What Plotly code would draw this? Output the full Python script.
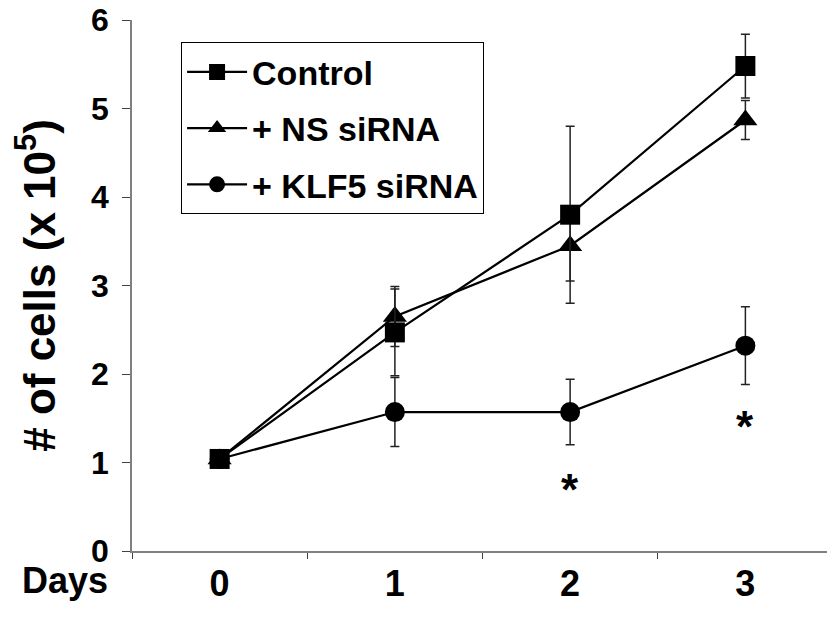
import plotly.graph_objects as go

days = ["0", "1", "2", "3"]
control = [1.04, 2.47, 3.80, 5.48]
control_err = [0.0, 0.49, 1.00, 0.36]
ns = [1.04, 2.65, 3.45, 4.87]
ns_err = [0.0, 0.34, 0.40, 0.22]
klf5 = [1.04, 1.57, 1.57, 2.32]
klf5_err = [0.0, 0.39, 0.37, 0.44]
star_days = ["2", "3"]
star_y = [0.70, 1.41]

FONT = "Arial, Liberation Sans, sans-serif"

fig = go.Figure()
series = [
    ("+ KLF5 siRNA", klf5, klf5_err, "circle", 3),
    ("+ NS siRNA", ns, ns_err, "triangle-up", 2),
    ("Control", control, control_err, "square", 1),
]
for name, vals, err, sym, rank in series:
    fig.add_trace(go.Scatter(
        x=days, y=vals, name=name, mode="lines+markers",
        line=dict(color="black", width=2.2),
        marker=dict(symbol=sym, size=20 if sym != "triangle-up" else 21, color="black"),
        error_y=dict(type="data", array=err, visible=True, color="#222222",
                     thickness=1.5, width=4.5),
        legendrank=rank, legendgroup=name,
    ))

for d, y in zip(star_days, star_y):
    fig.add_annotation(x=d, y=y, text="*", showarrow=False,
                       font=dict(family=FONT, size=44, color="black", weight="bold"),
                       xanchor="center", yanchor="middle")

fig.add_annotation(x=-0.0956, y=-0.055, xref="paper", yref="paper", text="Days",
                   showarrow=False, xanchor="center", yanchor="middle",
                   font=dict(family=FONT, size=36, color="black", weight="bold"))

# page body has an 8px margin, so the figure is sized to fit the 835x620 window
fig.update_layout(
    width=827, height=612,
    margin=dict(l=124, r=2, t=12, b=69),
    paper_bgcolor="white", plot_bgcolor="white",
    showlegend=True,
    legend=dict(x=0.07, y=0.958, xanchor="left", yanchor="top",
                bordercolor="black", borderwidth=1, bgcolor="white",
                font=dict(family=FONT, size=34, color="black", weight="bold"),
                tracegroupgap=9, itemwidth=60),
    xaxis=dict(type="category", categoryorder="array", categoryarray=days,
               range=[-0.5, 3.5], tickson="boundaries", ticks="outside", ticklen=6,
               tickcolor="#404040", showline=True, linecolor="#808080", linewidth=1.5,
               showgrid=False, zeroline=False, automargin=False,
               tickfont=dict(family=FONT, size=36, color="black", weight="bold")),
    yaxis=dict(range=[0, 6], dtick=1, ticks="outside", ticklen=8, tickcolor="#404040",
               showline=True, linecolor="#808080", linewidth=1.5, showgrid=False,
               zeroline=False, ticklabelstandoff=7, automargin=False,
               ticklabeloverflow="allow",
               tickfont=dict(family=FONT, size=32, color="black", weight="bold"),
               title=dict(text="# of cells (x 10<sup>5</sup>)", standoff=22,
                          font=dict(family=FONT, size=44, color="black", weight="bold"))),
)

fig.write_html("out.html")
